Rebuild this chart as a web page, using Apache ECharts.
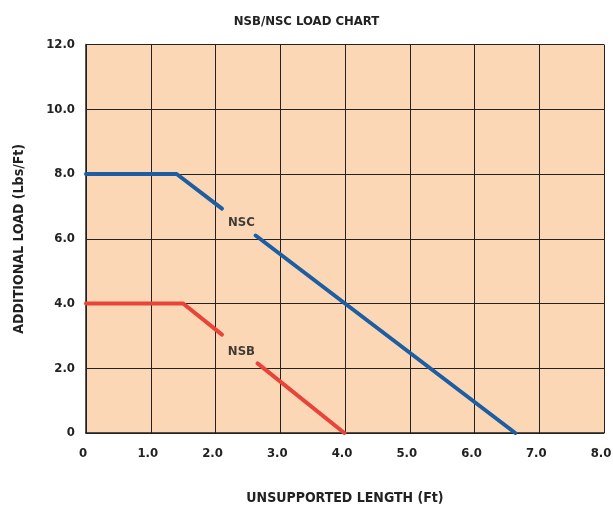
<!DOCTYPE html>
<html><head><meta charset="utf-8">
<script src="https://cdn.jsdelivr.net/npm/echarts@6/dist/echarts.min.js"></script>
<style>html,body{margin:0;padding:0;background:#fff}#c{width:613px;height:508px}</style>
</head><body><div id="c"></div>
<script>
var xTicks = [0, 1, 2, 3, 4, 5, 6, 7, 8];
var yTicks = [0, 2, 4, 6, 8, 10, 12];
var nscSeg1 = [[0, 8.0], [1.4, 8.0], [2.1, 6.93]];
var nscSeg2 = [[2.62, 6.1], [6.63, 0]];
var nsbSeg1 = [[0, 4.0], [1.5, 4.0], [2.1, 3.04]];
var nsbSeg2 = [[2.65, 2.15], [3.99, 0]];
var labelPoints = [{name: 'NSC', value: [2.4, 6.5]}, {name: 'NSB', value: [2.4, 2.5]}];

var FONT = '"DejaVu Sans Condensed", "Liberation Sans Narrow", Roboto, sans-serif';
var BLUE = '#1d5ea3', RED = '#e8443a';
var chart = echarts.init(document.getElementById('c'));
function seg(data, color) {
  return {type: 'line', data: data, symbol: 'none', silent: true,
    lineStyle: {color: color, width: 4, cap: 'round', join: 'round'}, z: 3};
}
function fmt(v) { return v === 0 ? '0' : v.toFixed(1); }
chart.setOption({
  animation: false,
  title: {text: 'NSB/NSC LOAD CHART', left: 'center', top: 10,
    textStyle: {fontFamily: FONT, fontSize: 13, fontWeight: 'bold', color: '#222'}},
  grid: {left: 86, right: 9, top: 44.5, bottom: 75, show: true, backgroundColor: '#fbd7b6',
    borderWidth: 0, outerBoundsMode: 'none', containLabel: false},
  xAxis: {type: 'value', min: 0, max: 8, interval: 1,
    name: 'UNSUPPORTED LENGTH (Ft)', nameLocation: 'middle', nameGap: 58,
    nameTextStyle: {fontFamily: FONT, fontSize: 14, fontWeight: 'bold', color: '#222'},
    axisLine: {show: true, lineStyle: {color: '#222', width: 1.5}},
    axisTick: {show: false},
    splitLine: {show: true, lineStyle: {color: '#222', width: 1}},
    axisLabel: {margin: 14, padding: [0, 6, 0, 0], fontFamily: FONT, fontSize: 13, fontWeight: 'bold', color: '#222', formatter: fmt}},
  yAxis: {type: 'value', min: 0, max: 12, interval: 2,
    name: 'ADDITIONAL LOAD (Lbs/Ft)', nameLocation: 'middle', nameGap: 60, nameRotate: 90,
    nameTextStyle: {fontFamily: FONT, fontSize: 14, fontWeight: 'bold', color: '#222'},
    axisLine: {show: true, lineStyle: {color: '#222', width: 1.5}},
    axisTick: {show: false},
    splitLine: {show: true, lineStyle: {color: '#222', width: 1}},
    axisLabel: {margin: 11, fontFamily: FONT, fontSize: 13, fontWeight: 'bold', color: '#222', formatter: fmt}},
  series: [
    seg(nscSeg1, BLUE), seg(nscSeg2, BLUE), seg(nsbSeg1, RED), seg(nsbSeg2, RED),
    {type: 'scatter', data: labelPoints, symbolSize: 0, silent: true, z: 4,
      label: {show: true, position: 'inside', formatter: '{b}', fontFamily: FONT,
        fontSize: 13, fontWeight: 'bold', color: '#111'}}
  ]
});
</script></body></html>
